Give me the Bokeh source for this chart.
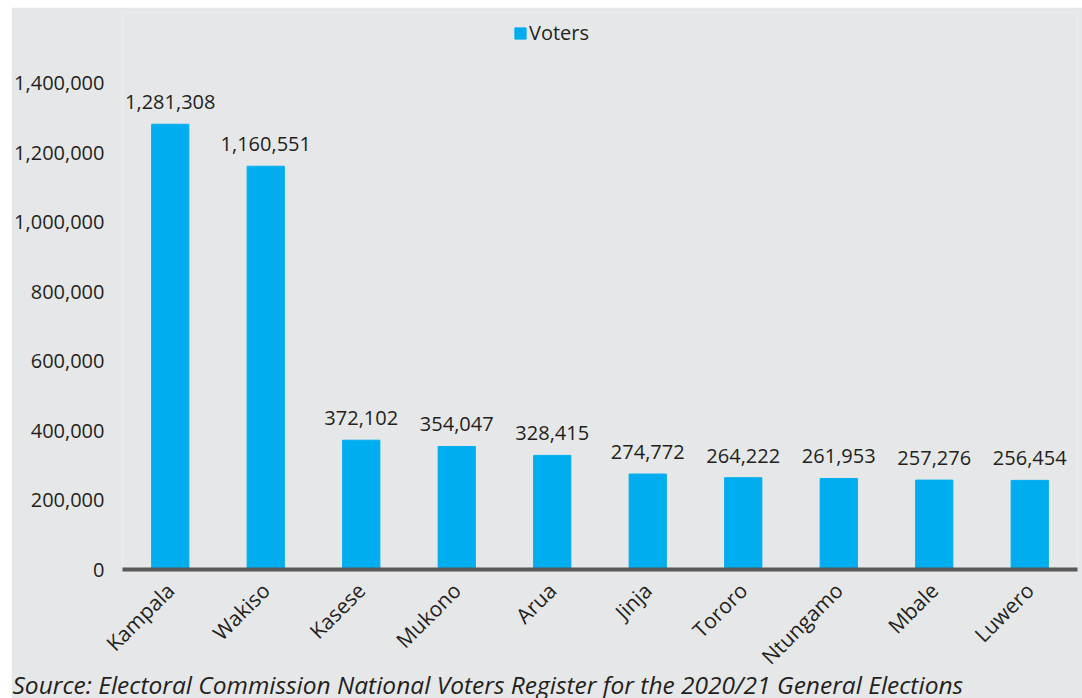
import math
from bokeh.plotting import figure
from bokeh.models import ColumnDataSource, Range1d, FixedTicker, NumeralTickFormatter, LabelSet, Title, Legend, LegendItem
from bokeh.core.properties import value
from bokeh.embed import file_html
from bokeh.resources import INLINE

districts = ["Kampala", "Wakiso", "Kasese", "Mukono", "Arua", "Jinja", "Tororo", "Ntungamo", "Mbale", "Luwero"]
voters = [1281308, 1160551, 372102, 354047, 328415, 274772, 264222, 261953, 257276, 256454]
y_ticks = [0, 200000, 400000, 600000, 800000, 1000000, 1200000, 1400000]
source_note = "Source: Electoral Commission National Voters Register for the 2020/21 General Elections"

BG = "#e6e7e8"
BAR = "#00aeef"
TXT = "#231f20"
FONT = "Open Sans"

src = ColumnDataSource(dict(d=districts, v=voters, lab=[f"{x:,}" for x in voters]))

p = figure(x_range=districts, y_range=Range1d(0, 1603000),
           width=1071, height=691, frame_width=955, frame_height=557,
           output_backend="svg", toolbar_location=None,
           background_fill_color=BG, border_fill_color=BG,
           min_border_left=110, min_border_top=5, min_border_right=6,
           min_border_bottom=129)
p.margin = (7, 0, 0, 11)
p.outline_line_color = None
p.xgrid.grid_line_color = None
p.ygrid.grid_line_color = None

r = p.vbar(x="d", top="v", width=0.39, source=src, color=BAR)

p.yaxis.ticker = FixedTicker(ticks=y_ticks)
p.yaxis.formatter = NumeralTickFormatter(format="0,0")
p.yaxis.axis_line_color = None
p.yaxis.major_tick_line_color = None
p.yaxis.minor_tick_line_color = None
p.yaxis.major_tick_out = 0
p.yaxis.major_tick_in = 0
p.yaxis.minor_tick_out = 0
p.yaxis.major_label_standoff = 18
p.yaxis.major_label_text_font = FONT
p.yaxis.major_label_text_font_size = "20px"
p.yaxis.major_label_text_color = TXT

p.xaxis.axis_line_color = "#595959"
p.xaxis.axis_line_width = 4
p.xaxis.major_tick_line_color = None
p.xaxis.minor_tick_line_color = None
p.xaxis.major_tick_out = 0
p.xaxis.major_tick_in = 0
p.xaxis.minor_tick_out = 0
p.xaxis.major_label_orientation = math.pi / 4
p.xaxis.major_label_standoff = 17
p.xaxis.major_label_text_font = FONT
p.xaxis.major_label_text_font_size = "21px"
p.xaxis.major_label_text_color = TXT

labels = LabelSet(x="d", y="v", text="lab", source=src, text_align="center",
                  text_baseline="bottom", y_offset=15, text_font=value(FONT),
                  text_font_size=value("20px"), text_color=TXT)
p.add_layout(labels)

legend = Legend(items=[LegendItem(label="Voters", renderers=[r])],
                location=(391, 523), orientation="horizontal",
                background_fill_alpha=0, border_line_color=None,
                padding=0, margin=0, label_standoff=2,
                glyph_width=14, glyph_height=14,
                label_text_font=FONT, label_text_font_size="20px", label_text_color=TXT)
p.add_layout(legend, "center")

note = Title(text=source_note, align="left", offset=-110, standoff=-33,
             text_font=FONT, text_font_style="italic", text_font_size="24.5px",
             text_color=TXT)
p.add_layout(note, "below")

open("out.html", "w").write(file_html(p, INLINE))
